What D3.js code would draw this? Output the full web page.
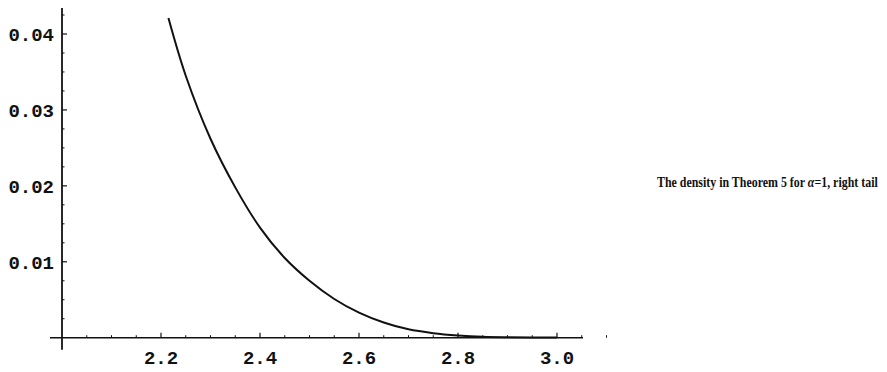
<!DOCTYPE html>
<html>
<head>
<meta charset="utf-8">
<script src="https://cdn.jsdelivr.net/npm/d3@7"></script>
<style>
  html, body { margin: 0; padding: 0; background: #fff; }
  svg { display: block; }
</style>
</head>
<body>
<svg id="chart" width="887" height="372"></svg>
<script>
// Right tail of the density (alpha = 1), sampled along x
const xs = [2.215, 2.25, 2.3, 2.35, 2.4, 2.45, 2.5, 2.55, 2.6, 2.65, 2.7, 2.75, 2.8, 2.85, 2.9, 2.95, 3.0];
const ys = [0.0421, 0.0345, 0.0262, 0.0198, 0.0145, 0.0105, 0.0075, 0.0051, 0.0033, 0.0020, 0.0011, 0.0006, 0.0003, 0.00012, 0.00005, 0.00002, 0.00001];

const xTickValues = [2.2, 2.4, 2.6, 2.8, 3.0];
const xTickLabels = ["2.2", "2.4", "2.6", "2.8", "3.0"];
const yTickValues = [0.01, 0.02, 0.03, 0.04];
const yTickLabels = ["0.01", "0.02", "0.03", "0.04"];
const captionParts = [
  { text: "The density in Theorem 5 for ", italic: false },
  { text: "α", italic: true },
  { text: "=1, right tail", italic: false }
];

const svg = d3.select("#chart");

const x = d3.scaleLinear().domain([2.0, 3.0]).range([62, 557]);
const y = d3.scaleLinear().domain([0, 0.04]).range([337.7, 34]);

const ink = "#111";
const g = svg.append("g");

// x axis line (starts a little to the left of the y axis)
g.append("line")
  .attr("x1", x(2.0) - 12).attr("x2", x(3.0) + 26)
  .attr("y1", y(0)).attr("y2", y(0))
  .attr("stroke", ink).attr("stroke-width", 1.6);

// y axis line (runs slightly below the x axis)
g.append("line")
  .attr("x1", x(2.0)).attr("x2", x(2.0))
  .attr("y1", 8).attr("y2", y(0) + 12)
  .attr("stroke", ink).attr("stroke-width", 1.8);

// x ticks: majors every 0.2, minors every 0.05
const xMinor = d3.range(2.05, 3.12, 0.05).filter(v => Math.abs(v * 5 - Math.round(v * 5)) > 1e-6);
g.selectAll(".xminor").data(xMinor).join("line")
  .attr("x1", d => x(d)).attr("x2", d => x(d))
  .attr("y1", y(0)).attr("y2", y(0) - 2.5)
  .attr("stroke", ink).attr("stroke-width", 1);
g.selectAll(".xmajor").data(xTickValues).join("line")
  .attr("x1", d => x(d)).attr("x2", d => x(d))
  .attr("y1", y(0)).attr("y2", y(0) - 5)
  .attr("stroke", ink).attr("stroke-width", 1.2);

// y ticks: majors every 0.01, minors every 0.0025
const yMinor = d3.range(0.0025, 0.0451, 0.0025).filter(v => Math.abs(v * 100 - Math.round(v * 100)) > 1e-6);
g.selectAll(".yminor").data(yMinor).join("line")
  .attr("x1", x(2.0)).attr("x2", x(2.0) + 2.5)
  .attr("y1", d => y(d)).attr("y2", d => y(d))
  .attr("stroke", ink).attr("stroke-width", 1);
g.selectAll(".ymajor").data(yTickValues).join("line")
  .attr("x1", x(2.0)).attr("x2", x(2.0) + 5)
  .attr("y1", d => y(d)).attr("y2", d => y(d))
  .attr("stroke", ink).attr("stroke-width", 1.2);

// tick labels in a bold monospaced face
const tickFont = "'Liberation Mono', 'Courier New', monospace";
g.selectAll(".xlab").data(xTickValues).join("text")
  .attr("x", d => x(d)).attr("y", y(0) + 26)
  .attr("text-anchor", "middle")
  .attr("font-family", tickFont).attr("font-weight", "bold").attr("font-size", 19)
  .attr("fill", ink)
  .text((d, i) => xTickLabels[i]);
g.selectAll(".ylab").data(yTickValues).join("text")
  .attr("x", x(2.0) - 8).attr("y", d => y(d))
  .attr("dy", "0.36em")
  .attr("text-anchor", "end")
  .attr("font-family", tickFont).attr("font-weight", "bold").attr("font-size", 19)
  .attr("fill", ink)
  .text((d, i) => yTickLabels[i]);

// density curve
const pts = xs.map((v, i) => [v, ys[i]]);
g.append("path")
  .datum(pts)
  .attr("fill", "none")
  .attr("stroke", ink)
  .attr("stroke-width", 2)
  .attr("stroke-linejoin", "round")
  .attr("d", d3.line().x(d => x(d[0])).y(d => y(d[1])).curve(d3.curveCatmullRom));

// caption at the right, condensed horizontally to its slot
const cap = svg.append("text")
  .attr("font-family", "'Liberation Serif', 'Times New Roman', serif")
  .attr("font-weight", "bold").attr("font-size", 15)
  .attr("fill", ink);
cap.selectAll("tspan").data(captionParts).join("tspan")
  .attr("font-style", d => d.italic ? "italic" : "normal")
  .text(d => d.text);
const capWidth = cap.node().getComputedTextLength();
cap.attr("transform", `translate(657,187) scale(${221 / capWidth},1)`);
</script>
</body>
</html>
